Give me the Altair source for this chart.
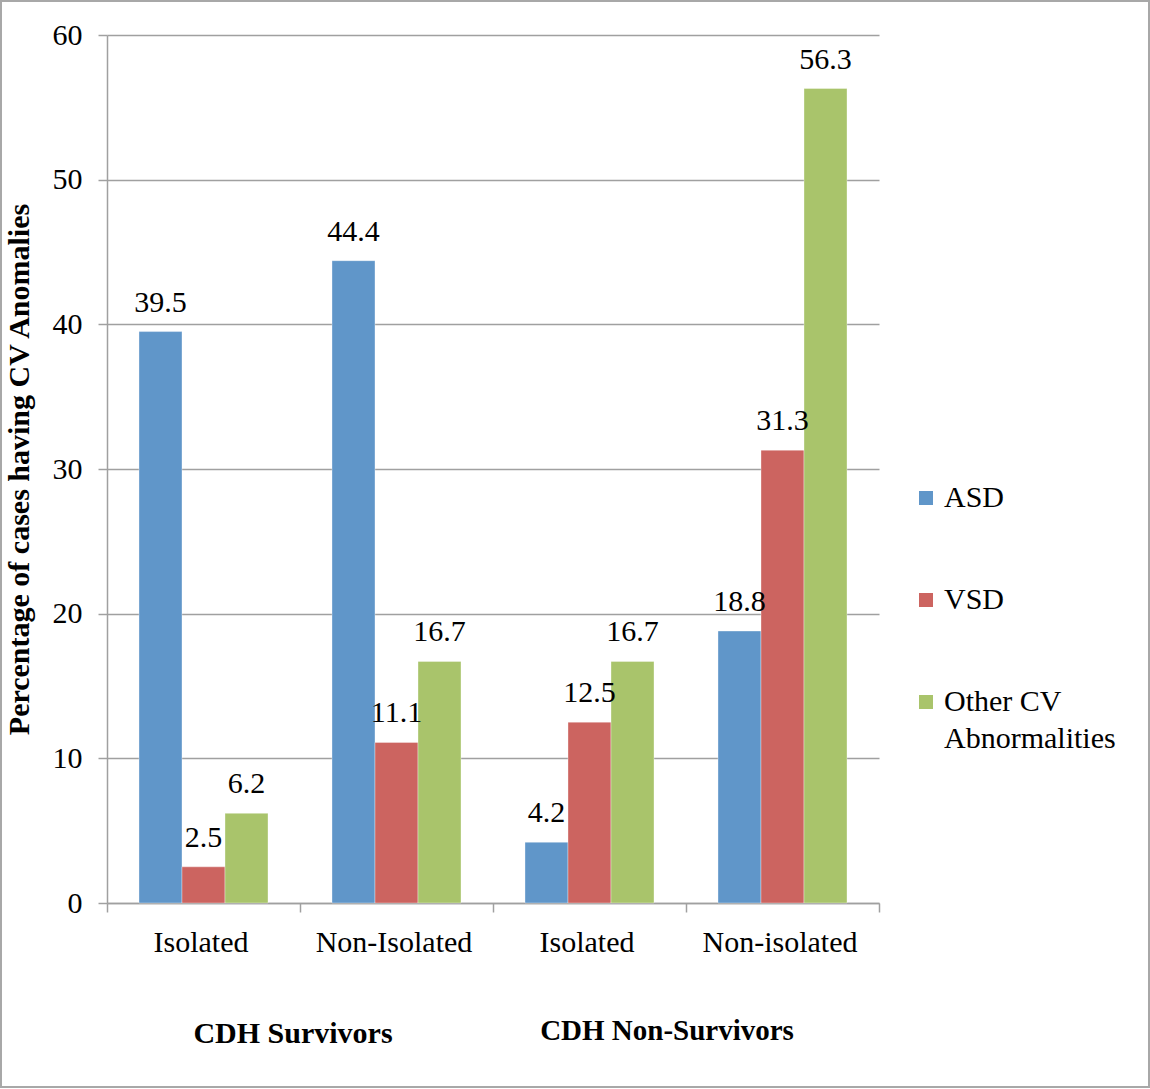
import altair as alt
import pandas as pd

# Subgroups along the x axis (keys are unique; labels are what is shown)
cat_keys = ["S-Isolated", "S-Non-Isolated", "N-Isolated", "N-Non-isolated"]
cat_labels = ["Isolated", "Non-Isolated", "Isolated", "Non-isolated"]
series = ["ASD", "VSD", "Other CV Abnormalities"]
colors = ["#6096C9", "#CC6460", "#A9C46B"]

asd = [39.5, 44.4, 4.2, 18.8]
vsd = [2.5, 11.1, 12.5, 31.3]
other = [6.2, 16.7, 16.7, 56.3]

groups = ["CDH Survivors", "CDH Non-Survivors"]
group_first_cat = ["S-Isolated", "N-Isolated"]

rows = []
for s, vals in zip(series, [asd, vsd, other]):
    for k, v in zip(cat_keys, vals):
        rows.append({"cat": k, "series": s, "value": v})
df = pd.DataFrame(rows)

FONT = "Liberation Serif"
W, H = 772, 868

label_map = "{" + ", ".join(f"'{k}': '{l}'" for k, l in zip(cat_keys, cat_labels)) + "}"

x_enc = alt.X(
    "cat:N",
    sort=cat_keys,
    scale=alt.Scale(domain=cat_keys, paddingInner=0, paddingOuter=0),
    axis=alt.Axis(
        title=None,
        labelExpr=f"{label_map}[datum.value]",
        labelAngle=0,
        labelFont=FONT,
        labelFontSize=30,
        labelColor="#000000",
        labelPadding=15,
        labelOffset=-3,
        tickBand="extent",
        tickSize=9,
        tickColor="#a0a0a0",
        tickWidth=1.5,
        domainColor="#a0a0a0",
        domainWidth=1.5,
        grid=False,
    ),
)

y_enc = alt.Y(
    "value:Q",
    scale=alt.Scale(domain=[0, 60], nice=False),
    axis=alt.Axis(
        title="Percentage of cases having CV Anomalies",
        titleFont=FONT,
        titleFontSize=30,
        titleFontWeight="bold",
        titleColor="#000000",
        titlePadding=18,
        values=[0, 10, 20, 30, 40, 50, 60],
        labelFont=FONT,
        labelFontSize=30,
        labelColor="#000000",
        labelPadding=16,
        tickSize=9,
        tickColor="#a0a0a0",
        tickWidth=1.5,
        domainColor="#a0a0a0",
        domainWidth=1.5,
        gridColor="#a0a0a0",
        gridWidth=1.5,
    ),
)

xoff = alt.XOffset(
    "series:N",
    sort=series,
    scale=alt.Scale(domain=series, paddingInner=0, paddingOuter=0.744),
)

color_enc = alt.Color(
    "series:N",
    sort=series,
    scale=alt.Scale(domain=series, range=colors),
    legend=alt.Legend(
        title=None,
        orient="none",
        legendX=W + 32,
        legendY=448,
        symbolType="square",
        symbolSize=196,
        symbolStrokeWidth=0,
        labelFont=FONT,
        labelFontSize=30,
        labelColor="#000000",
        labelLimit=300,
        labelOffset=3,
        rowPadding=72,
        labelExpr="datum.label == 'Other CV Abnormalities' ? ['Other CV', 'Abnormalities'] : datum.label",
    ),
)

base = alt.Chart(df)

bars = base.mark_bar(strokeWidth=1, strokeOpacity=0.35, stroke="#ffffff").encode(
    x=x_enc, xOffset=xoff, y=y_enc, color=color_enc
)

values = base.mark_text(
    font=FONT, fontSize=30, color="#000000", baseline="alphabetic", dy=-20
).encode(
    x=alt.X("cat:N", sort=cat_keys),
    xOffset=alt.XOffset("series:N", sort=series),
    y="value:Q",
    text=alt.Text("value:Q", format=".1f"),
)

# Super-category labels under the axis, centred near the group boundary
gdf = pd.DataFrame({"group": groups, "cat": group_first_cat})
group_layers = []
for g, dx, yy, fs in zip(groups, [-7, -19], [999, 996], [30, 29]):
    group_layers.append(
        alt.Chart(gdf[gdf["group"] == g])
        .mark_text(font=FONT, fontSize=fs, fontWeight="bold", color="#000000", dx=dx)
        .encode(
            x=alt.X("cat:N", sort=cat_keys, bandPosition=1),
            y=alt.value(yy),
            text="group:N",
        )
    )

# Thin frame around the whole figure
frame = alt.Chart(pd.DataFrame({"f": [0]})).mark_rect(
    fill=None, stroke="#a8a8a8", strokeWidth=2
).encode(
    x=alt.value(-106), x2=alt.value(1042), y=alt.value(-34), y2=alt.value(1052)
)

chart = (
    alt.layer(bars, values, *group_layers, frame)
    .properties(
        width=W,
        height=H,
        padding={"left": 107, "top": 35, "right": 271, "bottom": 186},
        autosize=alt.AutoSizeParams(type="none"),
        background="#ffffff",
    )
    .configure(
        view={"stroke": "transparent"},
        style={"guide-label": {"lineHeight": 37}},
    )
)

chart.save("out.html", embed_options={"renderer": "svg", "actions": False})
